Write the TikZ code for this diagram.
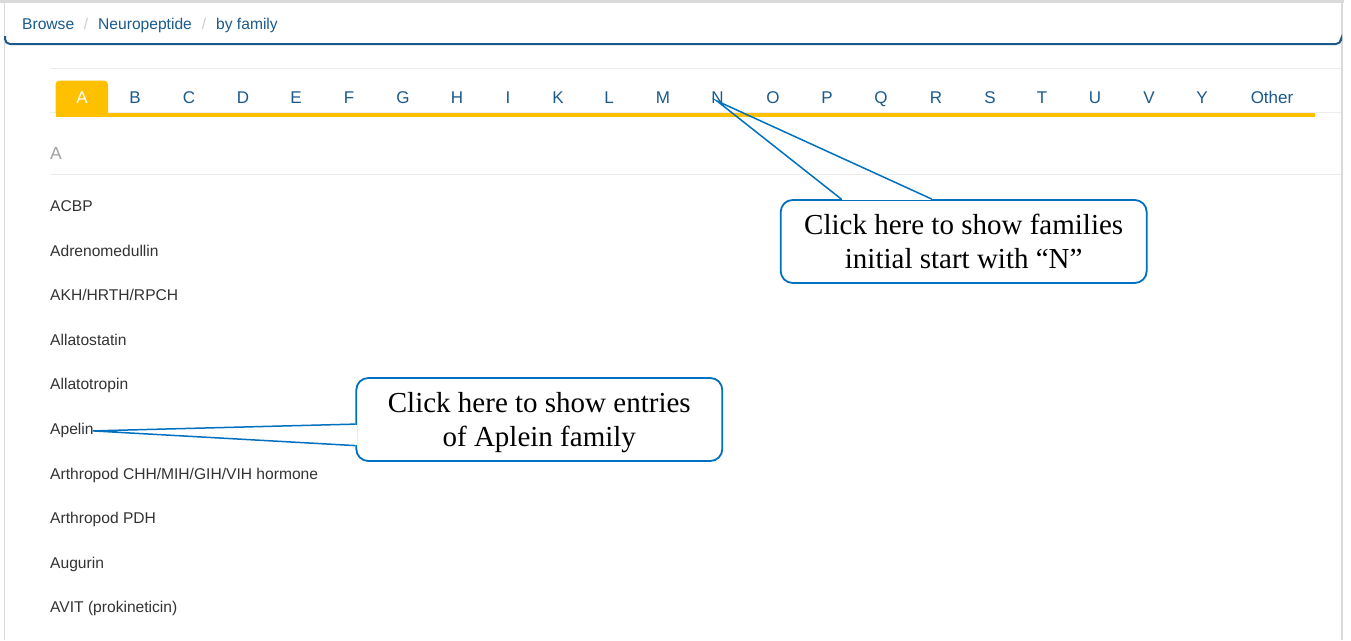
\documentclass[tikz,border=0pt]{standalone}
\usepackage{fontspec}
\setmainfont{Liberation Serif}
\newfontfamily\websans{Liberation Sans}
\usetikzlibrary{calc}
\definecolor{linkblue}{RGB}{26,90,140}
\definecolor{tabyellow}{RGB}{255,192,0}
\definecolor{calloutblue}{RGB}{0,112,192}
\definecolor{textgray}{RGB}{51,51,51}
\definecolor{headgray}{RGB}{160,160,160}
\definecolor{sepgray}{RGB}{204,204,204}
\definecolor{rulegray}{RGB}{236,236,236}
\definecolor{framegray}{RGB}{218,218,218}
\tikzset{
  crumb/.style={font=\websans\fontsize{15.6}{18}\selectfont, text=linkblue, inner sep=0pt, anchor=base west},
  crumbsep/.style={font=\websans\fontsize{15.6}{18}\selectfont, text=sepgray, inner sep=0pt, anchor=base},
  tabletter/.style={font=\websans\fontsize{17}{19}\selectfont, text=linkblue, inner sep=0pt, anchor=base},
  listitem/.style={font=\websans\fontsize{15.6}{18}\selectfont, text=textgray, inner sep=0pt, anchor=base west},
  callout/.style={draw=calloutblue, line width=1.8pt, fill=white, rounded corners=12pt,
    minimum width=366pt, minimum height=83pt, align=center, inner sep=0pt,
    font=\fontsize{29}{34}\selectfont},
  pointer/.style={calloutblue, line width=1.5pt},
  thinrule/.style={rulegray, line width=1pt}
}
\begin{document}
\begin{tikzpicture}[x=1pt,y=-1pt]
\useasboundingbox[fill=white] (0,0) rectangle (1351,640);
% frame
\draw[framegray, line width=3pt] (0,1.5) -- (1344,1.5);
\draw[framegray, line width=1.5pt] (4.5,3) -- (4.5,640);
\draw[framegray, line width=2pt] (1342,3) -- (1342,640);
% breadcrumb panel bottom
\draw[linkblue, line width=2pt, rounded corners=5pt] (5,36) -- (5,44) -- (1341,44) -- (1341,41);
\node[crumb] (browse) at (22,29) {Browse};
\node[crumbsep] (sep1) at (86,29) {/};
\node[crumb] (neuro) at (98,29) {Neuropeptide};
\node[crumbsep] (sep2) at (204,29) {/};
\node[crumb] (byfam) at (216,29) {by family};
% rules
\draw[thinrule] (50,68.5) -- (1341,68.5);
\draw[thinrule] (50,112.5) -- (1341,112.5);
\draw[thinrule] (50,174.5) -- (1341,174.5);
% active tab and bar
\fill[tabyellow] (55.5,113) [rounded corners=4pt] -- (55.5,80.5) -- (108,80.5) [sharp corners] -- (108,113) -- cycle;
\fill[tabyellow] (55.5,112.5) rectangle (1314.5,116.5);
\node[tabletter, text=white] (tabA) at (82,103) {A};
\foreach \l/\x in {B/135,C/189,D/243,E/296,F/349,G/403,H/457,I/508,K/558,L/609,M/663,N/717.5,O/773,P/827,Q/881,R/936,S/990,T/1042,U/1095,V/1149,Y/1202,Other/1272}
  \node[tabletter] (tab\l) at (\x,103) {\l};
% section heading
\node[font=\websans\fontsize{17.5}{21}\selectfont, text=headgray, inner sep=0pt, anchor=base west] (head) at (50,159.3) {A};
% list
\node[listitem] (i1) at (50,211.5) {ACBP};
\node[listitem] (i2) at (50,256.1) {Adrenomedullin};
\node[listitem] (i3) at (50,300.7) {AKH/HRTH/RPCH};
\node[listitem] (i4) at (50,345.2) {Allatostatin};
\node[listitem] (i5) at (50,389.8) {Allatotropin};
\node[listitem] (apelin) at (50,434.4) {Apelin};
\node[listitem] (i7) at (50,479.0) {Arthropod CHH/MIH/GIH/VIH hormone};
\node[listitem] (i8) at (50,523.6) {Arthropod PDH};
\node[listitem] (i9) at (50,568.1) {Augurin};
\node[listitem] (i10) at (50,612.7) {AVIT (prokineticin)};
% callout 1
\node[callout] (c1) at (963.7,241.5) {Click here to show families\\initial start with “N”};
\coordinate (ntip) at ($(tabN.base)+(-0.5,-2)$);
\coordinate (c1a) at ($(c1.north west)+(61.5,0)$);
\coordinate (c1b) at ($(c1.north west)+(152,0)$);
\draw[white, line width=2.6pt] ($(c1a)+(1,0)$) -- ($(c1b)+(-1,0)$);
\draw[pointer, line join=miter] (c1a) -- (ntip) -- (c1b);
% callout 2
\node[callout, text depth=0pt] (c2) at (539.3,419.5) {Click here to show entries\\of Aplein family};
\coordinate (atip) at ($(apelin.base east)+(-1,-3.5)$);
\coordinate (c2a) at ($(c2.north west)+(0,47)$);
\coordinate (c2b) at ($(c2.north west)+(0,68.5)$);
\draw[white, line width=2.6pt] ($(c2a)+(0,1)$) -- ($(c2b)+(0,-1)$);
\draw[pointer, line join=miter] (c2a) -- (atip) -- (c2b);
\end{tikzpicture}
\end{document}
